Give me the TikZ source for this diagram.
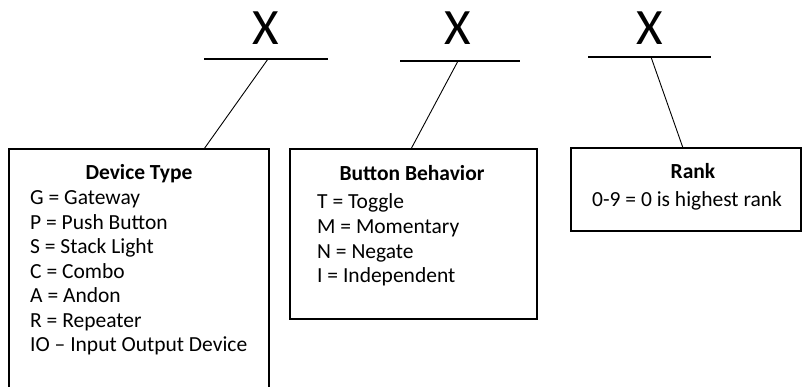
\documentclass[tikz,border=0pt]{standalone}
\usepackage{fontspec}
\setmainfont{Carlito}
\begin{document}
\begin{tikzpicture}[x=1pt,y=-1pt,
  boxframe/.style={draw=black,line width=1.5pt},
  slot/.style={draw=black,line width=1.2pt},
  link/.style={draw=black,line width=0.9pt},
  digit/.style={inner sep=0pt,anchor=base,font=\fontsize{51}{60}\selectfont},
  heading/.style={inner sep=0pt,anchor=base,font=\fontsize{21.5}{24}\selectfont\bfseries},
  entry/.style={inner sep=0pt,anchor=base west,font=\fontsize{21.5}{24}\selectfont}]
\useasboundingbox (0,0) rectangle (802,387);

% placeholder letters with their underlines
\node[digit] (x1) at (266,45) {X};
\node[digit] (x2) at (458,45) {X};
\node[digit] (x3) at (650,45) {X};
\coordinate (s1l) at (204,59); \coordinate (s1r) at (328,59);
\coordinate (s2l) at (400,61); \coordinate (s2r) at (520,61);
\coordinate (s3l) at (588,57); \coordinate (s3r) at (711,57);
\draw[slot] (s1l) -- (s1r);
\draw[slot] (s2l) -- (s2r);
\draw[slot] (s3l) -- (s3r);

% legend boxes
\draw[boxframe] (9,400) |- (269,149) -- (269,400);
\draw[boxframe] (290,149) rectangle (537,319);
\draw[boxframe] (802,231) -| (571,148) -- (802,148);
\draw[boxframe] (801,148) -- (801,231);

% connectors from each underline to its box
\coordinate (t1) at (268,59);  \coordinate (b1) at (204,149);
\coordinate (t2) at (458,61);  \coordinate (b2) at (411,149);
\coordinate (t3) at (651,57);  \coordinate (b3) at (683,148);
\draw[link] (t1) -- (b1);
\draw[link] (t2) -- (b2);
\draw[link] (t3) -- (b3);

% device type
\node[heading] (h1) at (139,180) {Device Type};
\node[entry] (d1) at (30,205.0) {G = Gateway};
\node[entry] (d2) at (30,229.4) {P = Push Button};
\node[entry] (d3) at (30,253.8) {S = Stack Light};
\node[entry] (d4) at (30,278.2) {C = Combo};
\node[entry] (d5) at (30,302.6) {A = Andon};
\node[entry] (d6) at (30,327.0) {R = Repeater};
\node[entry] (d7) at (30,351.4) {IO – Input Output Device};

% button behavior
\node[heading] (h2) at (412,181) {Button Behavior};
\node[entry] (e1) at (317,208.5) {T = Toggle};
\node[entry] (e2) at (317,233.3) {M = Momentary};
\node[entry] (e3) at (317,258.1) {N = Negate};
\node[entry] (e4) at (317,282.9) {I = Independent};

% rank
\node[heading] (h3) at (693,179) {Rank};
\node[entry] (r1) at (592,206.5) {0-9 = 0 is highest rank};
\end{tikzpicture}
\end{document}
